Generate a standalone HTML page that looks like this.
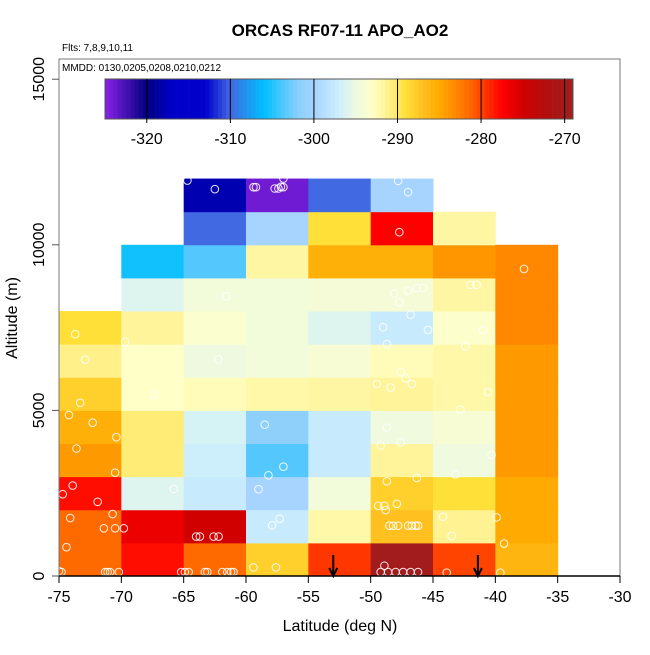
<!DOCTYPE html>
<html><head><meta charset="utf-8"><style>
body{margin:0;background:#fff;}
svg text{font-family:"Liberation Sans",sans-serif;}
</style></head><body>
<svg id="chart" width="650" height="650" xmlns="http://www.w3.org/2000/svg">
<text x="340" y="36" text-anchor="middle" font-size="17" font-weight="bold">ORCAS RF07-11 APO_AO2</text>
<text x="62" y="51" font-size="10">Flts: 7,8,9,10,11</text>
<g id="cells"></g>
<g id="pts"></g>
<g id="arrows"></g>
<rect x="59" y="59" width="561" height="517" fill="none" stroke="#777" stroke-width="1"/>
<line x1="59" y1="576" x2="620" y2="576" stroke="#000" stroke-width="1.5"/>
<text x="62" y="71" font-size="10">MMDD: 0130,0205,0208,0210,0212</text>
<g id="cbar"></g>
<g id="xaxis"></g>
<g id="yaxis"></g>
<text x="340" y="631" text-anchor="middle" font-size="16">Latitude (deg N)</text>
<text transform="translate(17,318) rotate(-90)" text-anchor="middle" font-size="16">Altitude (m)</text>
</svg>
<script>
const latBins = [-75,-70,-65,-60,-55,-50,-45,-40];
const altBins = [0,1000,2000,3000,4000,5000,6000,7000,8000,9000,10000,11000];
// values[column][row], null = no data
const colM75 = [-281.5,-281.5,-278,-284,-285.5,-288,-291,-289,null,null,null,null];
const colM70 = [-278,-276.5,-296,-290.5,-290.5,-293,-293,-291.5,-296,-305.5,null,null];
const colM65 = [-281.5,-275,-297.5,-297,-296.5,-292.5,-295,-293.5,-294.5,-303.5,-310,-318];
const colM60 = [-288,-297.5,-300,-303.5,-301.5,-292,-294.5,-294.5,-294.5,-291.8,-300,-324];
const colM55 = [-279.5,-292,-294.5,-297.5,-297.5,-291.8,-294,-296,-294.2,-285.5,-289,-310];
const colM50 = [-269.5,-287,-288,-291.5,-294.8,-291.5,-292.5,-297.5,-294.2,-285.5,-277.5,-300];
const colM45 = [-280,-291.3,-289,-294.8,-294,-292,-292,-293.3,-291.8,-283.8,-291.8,null];
const colM40 = [-286,-285,-285,-284,-284,-284,-284,-283,-283,-283,null,null];
const columns = [colM75,colM70,colM65,colM60,colM55,colM50,colM45,colM40];
const ptLat = [-64.7,-62.5,-59.4,-59.2,-57.7,-57.4,-57.2,-57.0,-57.0,-61.6,-73.7,-69.7,-72.9,-62.2,-67.4,-73.3,-74.2,-72.3,-70.4,-58.5,-73.6,-70.5,-57.0,-58.2,-59.0,-65.8,-73.9,-74.7,-71.9,-70.7,-74.1,-71.4,-70.5,-69.8,-57.9,-57.3,-64.0,-63.7,-62.6,-62.2,-74.4,-75,-74.8,-71.3,-71.1,-70.9,-70.2,-65.2,-64.9,-64.6,-63.3,-63.1,-61.9,-61.5,-61.2,-61.0,-59.4,-57.6,
-47.8,-47.0,-47.7,-37.7,-42.0,-41.5,-48.1,-47.7,-47.0,-46.3,-45.8,-46.8,-49.0,-45.4,-41.0,-48.7,-42.4,-47.6,-47.2,-46.7,-49.5,-48.4,-40.6,-42.8,-48.7,-49.2,-47.6,-40.3,-43.2,-48.7,-46.3,-49.4,-48.9,-48.8,-47.9,-48.5,-48.2,-47.8,-47.0,-46.7,-46.4,-46.2,-44.2,-39.9,-43.5,-39.3,-49.2,-48.6,-48.0,-47.4,-46.8,-46.2,-48.9,-43.9,-39.6];
const ptAlt = [11940,11680,11740,11740,11700,11700,11750,11740,12000,8450,7300,7070,6530,6540,5470,5230,4860,4630,4190,4570,3850,3120,3300,3040,2620,2630,2730,2470,2240,1870,1750,1440,1440,1440,1530,1730,1190,1190,1190,1190,870,150,120,120,120,120,120,120,120,120,120,120,120,120,120,120,260,260,
11930,11590,10380,9270,8790,8790,8530,8260,8610,8690,8700,7890,7510,7430,7430,7000,6930,6160,5970,5800,5800,5690,5550,5020,4480,3940,4040,3650,3070,2860,2960,2120,2120,1990,2180,1520,1520,1520,1520,1520,1520,1520,1790,1770,1210,980,120,120,120,120,120,120,310,100,100];
const arrowLat = [-53.0,-41.4];
const xTicks = [-75,-70,-65,-60,-55,-50,-45,-40,-35,-30];
const yTicks = [0,5000,10000,15000];
const cbTicks = [-320,-310,-300,-290,-280,-270];

const NS='http://www.w3.org/2000/svg';
const X = v => 59 + (v + 75) * 561/45;
const Y = v => 576 - v * 0.03312;
const CB = v => 105 + (v + 325) * 468/56;
const stops = [[-325,'#8b22e8'],[-320,'#000080'],[-317,'#0000c8'],[-313,'#0000cd'],[-310,'#4169e1'],[-306,'#00bfff'],[-302,'#87cefa'],[-300,'#a6d4ff'],[-297,'#cdeffc'],[-295,'#eef9e0'],[-293,'#ffffc8'],[-291,'#fff08a'],[-289,'#ffe038'],[-287,'#ffc020'],[-285,'#ffaa00'],[-283,'#ff8800'],[-281,'#ff6000'],[-279,'#ff2800'],[-277.5,'#ff0000'],[-275,'#d00000'],[-272,'#b01010'],[-269,'#a01e20']];
function hx(c){return [1,3,5].map(i=>parseInt(c.substr(i,2),16));}
function col(v){
  if(v<=stops[0][0])return stops[0][1];
  for(let i=1;i<stops.length;i++){if(v<=stops[i][0]){const a=stops[i-1],b=stops[i];const t=(v-a[0])/(b[0]-a[0]);const ca=hx(a[1]),cb=hx(b[1]);return 'rgb('+ca.map((x,k)=>Math.round(x+(cb[k]-x)*t)).join(',')+')';}}
  return stops[stops.length-1][1];
}
function mk(tag,attrs,parent){const e=document.createElementNS(NS,tag);for(const k in attrs)e.setAttribute(k,attrs[k]);parent.appendChild(e);return e;}

const cells=document.getElementById('cells');
columns.forEach((c,i)=>{c.forEach((v,j)=>{if(v===null)return;
  const r=mk('rect',{x:X(latBins[i]),y:Y(altBins[j]+1000),width:X(latBins[i]+5)-X(latBins[i])+0.5,height:Y(altBins[j])-Y(altBins[j]+1000)+0.5,fill:col(v)},cells);
  
  
});});
const pts=document.getElementById('pts');
ptLat.forEach((la,i)=>{
  const c=mk('circle',{cx:X(la),cy:Y(ptAlt[i]),r:3.8,fill:'none',stroke:'#fff','stroke-width':1,'stroke-opacity':0.9},pts);
  
  
});
const ar=document.getElementById('arrows');
arrowLat.forEach(la=>{
  const g=mk('g',{},ar);
  
  
  mk('line',{x1:X(la),y1:555,x2:X(la),y2:575,stroke:'#000','stroke-width':2},g);
  mk('polyline',{points:(X(la)-4)+',568 '+X(la)+',576 '+(X(la)+4)+',568',fill:'none',stroke:'#000','stroke-width':2},g);
});
const cb=document.getElementById('cbar');
for(let v=-325;v<-269;v+=0.5){mk('rect',{x:CB(v),y:79,width:CB(v+0.5)-CB(v)+0.3,height:40,fill:col(v+0.25)},cb);}
mk('rect',{x:105,y:79,width:468,height:40,fill:'none',stroke:'#555','stroke-width':1},cb);
cbTicks.forEach(t=>{
  mk('line',{x1:CB(t),y1:79,x2:CB(t),y2:123,stroke:'#000','stroke-width':1},cb);
  const tx=mk('text',{x:CB(t),y:144,'text-anchor':'middle','font-size':16},cb);tx.textContent=t;
  
  
});
const xa=document.getElementById('xaxis');
xTicks.forEach(t=>{
  mk('line',{x1:X(t),y1:576,x2:X(t),y2:583,stroke:'#000'},xa);
  const tx=mk('text',{x:X(t),y:602,'text-anchor':'middle','font-size':16},xa);tx.textContent=t;
  
  
});
const ya=document.getElementById('yaxis');
yTicks.forEach(t=>{
  mk('line',{x1:52,y1:Y(t),x2:59,y2:Y(t),stroke:'#555'},ya);
  const tx=mk('text',{transform:'translate(44,'+Y(t)+') rotate(-90)','text-anchor':'middle','font-size':16},ya);tx.textContent=t;
  
  
});
</script>
</body></html>
